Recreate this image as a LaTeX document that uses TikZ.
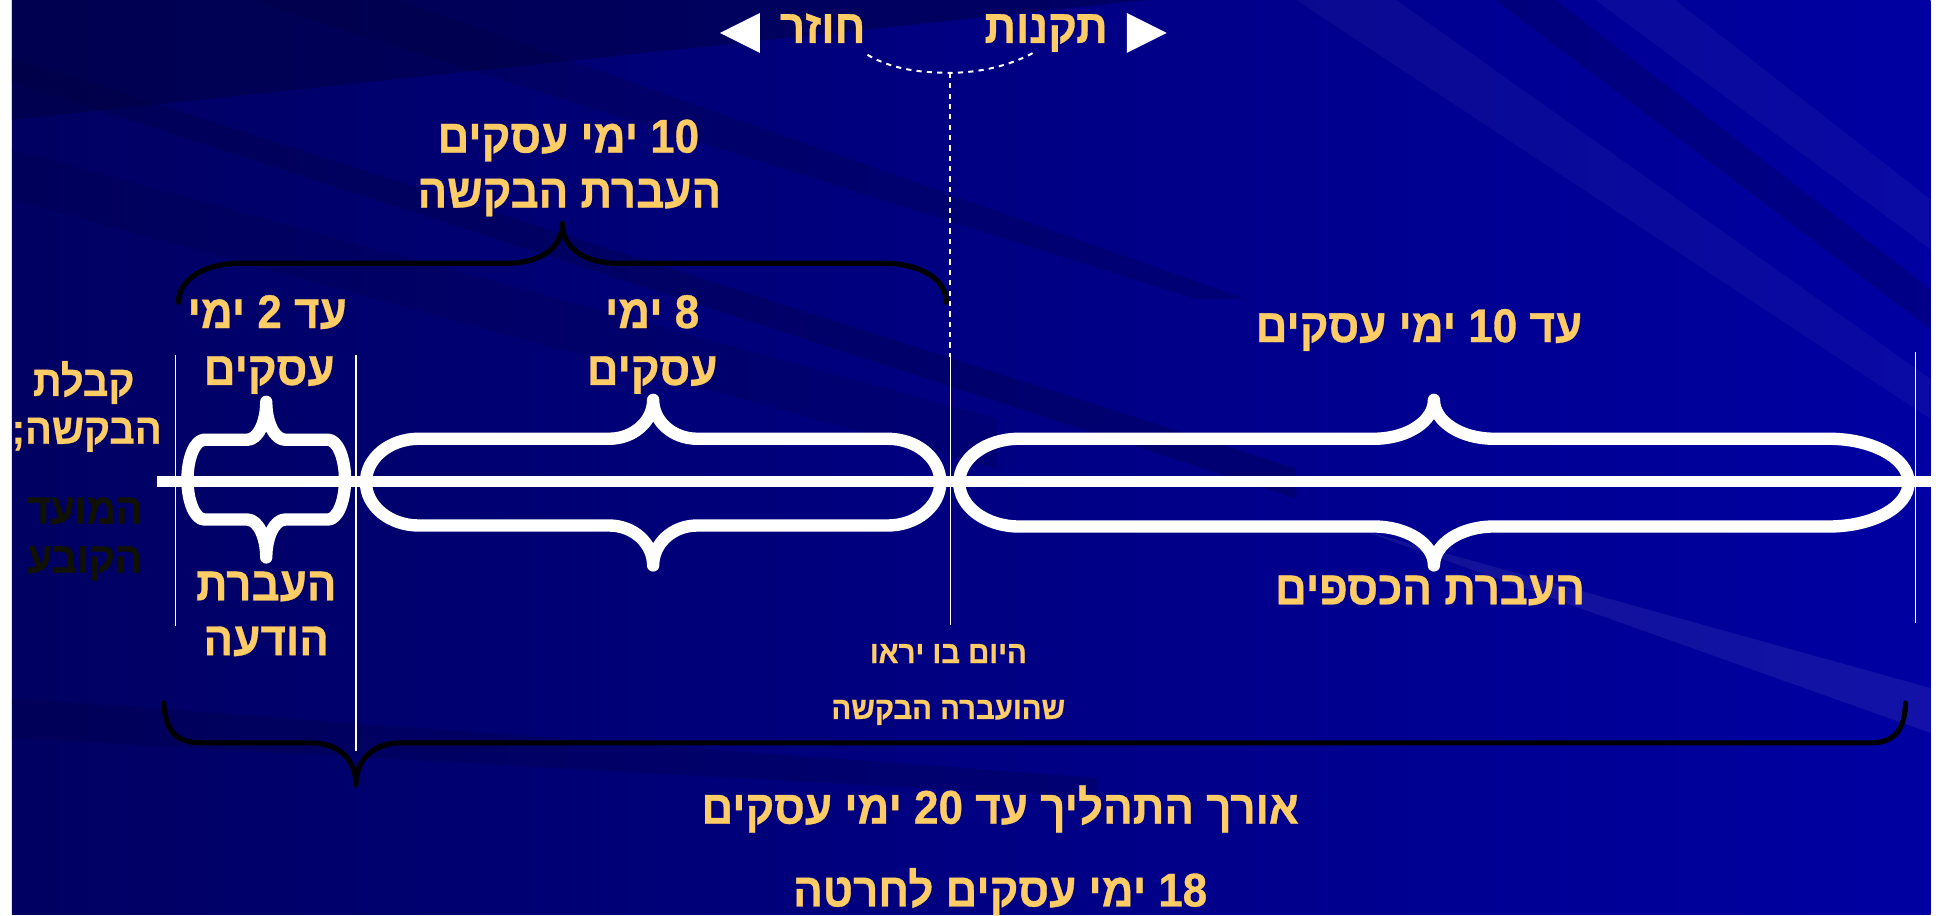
\documentclass[tikz,border=0pt]{standalone}
\usepackage{fontspec}
\newfontfamily\heb[Script=Hebrew,FakeStretch=0.93,BoldFeatures={FakeBold=0.7}]{Liberation Sans}
\TeXXeTstate=1
\definecolor{gold}{RGB}{255,204,102}
\definecolor{bgL}{RGB}{0,0,98}
\definecolor{bgR}{RGB}{0,0,162}
\definecolor{bgD}{RGB}{0,0,60}
\definecolor{ink}{RGB}{17,17,0}
\tikzset{
  lbl/.style={text=gold, font=\heb\bfseries\fontsize{23.7}{28}\selectfont, anchor=base, inner sep=0pt},
  sml/.style={lbl, font=\heb\bfseries\fontsize{15.8}{19}\selectfont},
  side/.style={lbl, font=\heb\bfseries\fontsize{21.5}{26}\selectfont},
  capsule/.style={draw=white, line width=6.2pt, line join=round, line cap=round},
  axisline/.style={draw=white, line width=5.5pt},
  tick/.style={draw=white, line width=0.8pt},
  dashtick/.style={draw=white, line width=0.9pt, dash pattern=on 2.6pt off 2.6pt},
  bracepath/.style={draw=black, line width=2.6pt, line cap=round, line join=round},
}
% #1 xl #2 xr #3 top #4 bot #5 tipT #6 tipB #7 rxL #8 rxR #9 hw
\newcommand\drawcapsule[9]{%
  \pgfmathsetmacro\cM{(#1+#2)/2}%
  \pgfmathsetmacro\cY{(#3+#4)/2}%
  \pgfmathsetmacro\cH{(#4-#3)/2*0.552}%
  \pgfmathsetmacro\cLa{#1+#7}%
  \pgfmathsetmacro\cLb{#1+#7-#7*0.552}%
  \pgfmathsetmacro\cRa{#2-#8}%
  \pgfmathsetmacro\cRb{#2-#8+#8*0.552}%
  \pgfmathsetmacro\cA{\cM-#9}%
  \pgfmathsetmacro\cAb{\cM-#9*0.448}%
  \pgfmathsetmacro\cB{\cM+#9}%
  \pgfmathsetmacro\cBb{\cM+#9*0.448}%
  \pgfmathsetmacro\cTT{#5+(#3-#5)*0.552}%
  \pgfmathsetmacro\cTB{#6-(#6-#4)*0.552}%
  \path[capsule] (#1,\cY) .. controls (#1,\cY-\cH) and (\cLb,#3) .. (\cLa,#3)
    -- (\cA,#3) .. controls (\cAb,#3) and (\cM,\cTT) .. (\cM,#5)
    .. controls (\cM,\cTT) and (\cBb,#3) .. (\cB,#3)
    -- (\cRa,#3) .. controls (\cRb,#3) and (#2,\cY-\cH) .. (#2,\cY)
    .. controls (#2,\cY+\cH) and (\cRb,#4) .. (\cRa,#4)
    -- (\cB,#4) .. controls (\cBb,#4) and (\cM,\cTB) .. (\cM,#6)
    .. controls (\cM,\cTB) and (\cAb,#4) .. (\cA,#4)
    -- (\cLa,#4) .. controls (\cLb,#4) and (#1,\cY+\cH) .. (#1,\cY) -- cycle;
}
\begin{document}
\begin{tikzpicture}[x=0.5pt,y=-0.5pt]
% background
\fill[white] (0,0) rectangle (1936,917);
\shade[left color=bgL, right color=bgR] (12,0) rectangle (1936,917);
\fill[bgD, opacity=0.45] (12,0) -- (1150,0) -- (12,120) -- cycle;
\fill[bgD, opacity=0.3] (12,58) -- (1300,470) -- (1300,500) -- (12,82) -- cycle;
\fill[bgD, opacity=0.2] (12,150) -- (1000,420) -- (1000,470) -- (12,200) -- cycle;
\fill[bgD, opacity=0.25] (250,0) -- (1200,300) -- (1250,300) -- (400,0) -- cycle;
\fill[bgD, opacity=0.25] (12,700) -- (1100,780) -- (1100,800) -- (12,740) -- cycle;
\fill[white, opacity=0.07] (1360,530) -- (1936,690) -- (1936,735) -- cycle;
\fill[white, opacity=0.04] (1300,0) -- (1936,420) -- (1936,380) -- (1400,0) -- cycle;
\fill[white, opacity=0.04] (1600,0) -- (1936,250) -- (1936,200) -- (1680,0) -- cycle;
\fill[bgD, opacity=0.25] (1500,0) -- (1936,330) -- (1936,290) -- (1560,0) -- cycle;

% black braces
\draw[bracepath] (179,303) .. controls (179,280) and (205,264) .. (242,264) -- (508,264)
  .. controls (540,264) and (564,250) .. (564,224) .. controls (564,250) and (588,264) .. (620,264)
  -- (886,264) .. controls (923,264) and (949,280) .. (949,303);
\draw[bracepath] (164,705) .. controls (167,735) and (176,745) .. (205,745) -- (312,745)
  .. controls (340,745) and (357,762) .. (357,787) .. controls (357,762) and (374,745) .. (402,745)
  -- (1876,745) .. controls (1903,745) and (1910,728) .. (1911,705);

% vertical ticks
\draw[tick] (176,356) -- (176,628);
\draw[tick] (357,356) -- (357,753);
\draw[tick] (953,358) -- (953,627);
\draw[dashtick] (953,73) -- (953,358);
\draw[tick] (1921,353) -- (1921,625);
\draw[dashtick, line width=1pt] (870,55) .. controls (895,70) and (925,73) .. (953,73)
  .. controls (982,73) and (1013,66) .. (1038,52);

% capsules
\drawcapsule{188}{346}{441}{521}{403}{559}{17}{17}{19}
\drawcapsule{367}{943}{440}{527}{401}{567}{53}{53}{44}
\drawcapsule{962}{1914}{440}{528}{401}{567}{60}{80}{60}
\draw[axisline] (157,483) -- (1936,483);

% triangles
\fill[white] (722,33) -- (762,13) -- (762,53) -- cycle;
\fill[white] (1170,33) -- (1130,13) -- (1130,53) -- cycle;

% labels
\node[lbl] (ret) at (825,43) {\beginR חוזר\endR};
\node[lbl] (tak) at (1049,43) {\beginR תקנות\endR};
\node[lbl] (top1) at (570,153) {\beginR \beginL 10\endL{} ימי עסקים\endR};
\node[lbl] (top2) at (571,208) {\beginR העברת הבקשה\endR};
\node[lbl] (s1a) at (268,329) {\beginR עד \beginL 2\endL{} ימי\endR};
\node[lbl] (s1b) at (270,386) {\beginR עסקים\endR};
\node[lbl] (s2a) at (654,329) {\beginR \beginL 8\endL{} ימי\endR};
\node[lbl] (s2b) at (654,386) {\beginR עסקים\endR};
\node[lbl] (s3) at (1423,343) {\beginR עד \beginL 10\endL{} ימי עסקים\endR};
\node[side] (l1) at (84,397) {\beginR קבלת\endR};
\node[side] (l2) at (87,445) {\beginR הבקשה;\endR};
\node[side, text=ink] (l3) at (85,525) {\beginR המועד\endR};
\node[side, text=ink] (l4) at (85,574) {\beginR הקובע\endR};
\node[lbl] (b1a) at (267,602) {\beginR העברת\endR};
\node[lbl] (b1b) at (267,657) {\beginR הודעה\endR};
\node[lbl] (b3) at (1434,606) {\beginR העברת הכספים\endR};
\node[sml] (d1) at (951,665) {\beginR היום בו יראו\endR};
\node[sml] (d2) at (951,721) {\beginR שהועברה הבקשה\endR};
\node[lbl] (t1) at (1003,826) {\beginR אורך התהליך עד \beginL 20\endL{} ימי עסקים\endR};
\node[lbl] (t2) at (1003,909) {\beginR \beginL 18\endL{} ימי עסקים לחרטה\endR};
\end{tikzpicture}
\end{document}
